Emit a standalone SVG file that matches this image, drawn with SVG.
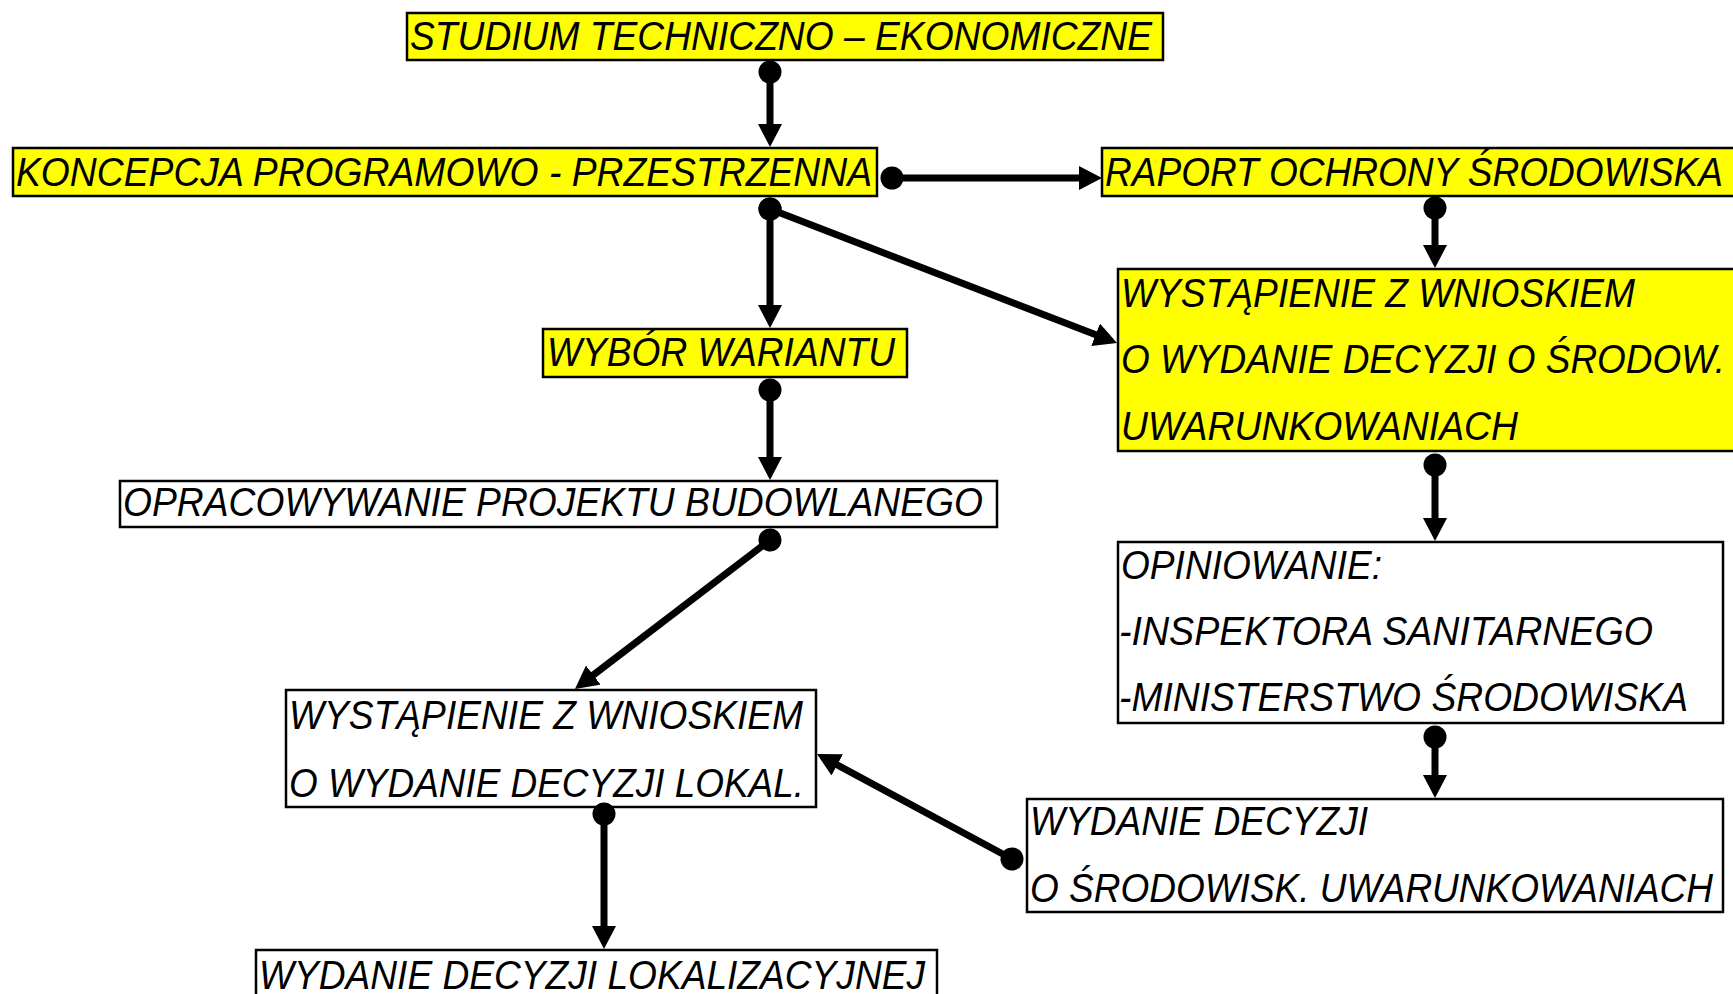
<svg xmlns="http://www.w3.org/2000/svg" width="1733" height="994" viewBox="0 0 1733 994">
<style>
.box{stroke:#000;stroke-width:2.5}
.y{fill:#FFFF00}
.w{fill:#FFFFFF}
.t{font-family:"Liberation Sans",Arial,sans-serif;font-style:italic;font-size:40px;fill:#000}
.c{stroke:#000;stroke-width:7;fill:none;marker-start:url(#dot);marker-end:url(#arr)}
</style>
<defs>
<marker id="arr" viewBox="0 0 23 24" refX="10" refY="12" markerWidth="23" markerHeight="24" markerUnits="userSpaceOnUse" orient="auto">
<path d="M0,0 L23,12 L0,24 z" fill="#000"/>
</marker>
<marker id="dot" viewBox="0 0 24 24" refX="12" refY="12" markerWidth="24" markerHeight="24" markerUnits="userSpaceOnUse" orient="auto">
<circle cx="12" cy="12" r="11.5" fill="#000"/>
</marker>
</defs>
<rect width="1733" height="994" fill="#FFFFFF"/>
<g id="studium">
<rect class="box y" x="407" y="13" width="756" height="47"/>
<text class="t" x="410" y="50" textLength="742" lengthAdjust="spacingAndGlyphs">STUDIUM TECHNICZNO – EKONOMICZNE</text>
</g>
<g id="koncepcja">
<rect class="box y" x="13" y="148" width="864" height="48"/>
<text class="t" x="16" y="186" textLength="856" lengthAdjust="spacingAndGlyphs">KONCEPCJA PROGRAMOWO - PRZESTRZENNA</text>
</g>
<g id="raport">
<rect class="box y" x="1102" y="148" width="660" height="48"/>
<text class="t" x="1105" y="186" textLength="618" lengthAdjust="spacingAndGlyphs">RAPORT OCHRONY ŚRODOWISKA</text>
</g>
<g id="wybor">
<rect class="box y" x="543" y="329" width="364" height="48"/>
<text class="t" x="547" y="366" textLength="348" lengthAdjust="spacingAndGlyphs">WYBÓR WARIANTU</text>
</g>
<g id="wniosek-srodow">
<rect class="box y" x="1118" y="269" width="660" height="182"/>
<text class="t" x="1121" y="307" textLength="514" lengthAdjust="spacingAndGlyphs">WYSTĄPIENIE Z WNIOSKIEM</text>
<text class="t" x="1121" y="373" textLength="604" lengthAdjust="spacingAndGlyphs">O WYDANIE DECYZJI O ŚRODOW.</text>
<text class="t" x="1121" y="440" textLength="397" lengthAdjust="spacingAndGlyphs">UWARUNKOWANIACH</text>
</g>
<g id="opracowywanie">
<rect class="box w" x="120" y="481" width="877" height="46"/>
<text class="t" x="123" y="516" textLength="860" lengthAdjust="spacingAndGlyphs">OPRACOWYWANIE PROJEKTU BUDOWLANEGO</text>
</g>
<g id="opiniowanie">
<rect class="box w" x="1118" y="542" width="605" height="181"/>
<text class="t" x="1121" y="579" textLength="261" lengthAdjust="spacingAndGlyphs">OPINIOWANIE:</text>
<text class="t" x="1119" y="645" textLength="534" lengthAdjust="spacingAndGlyphs">-INSPEKTORA SANITARNEGO</text>
<text class="t" x="1119" y="711" textLength="569" lengthAdjust="spacingAndGlyphs">-MINISTERSTWO ŚRODOWISKA</text>
</g>
<g id="wniosek-lokal">
<rect class="box w" x="286" y="690" width="530" height="117"/>
<text class="t" x="289" y="729" textLength="514" lengthAdjust="spacingAndGlyphs">WYSTĄPIENIE Z WNIOSKIEM</text>
<text class="t" x="289" y="797" textLength="515" lengthAdjust="spacingAndGlyphs">O WYDANIE DECYZJI LOKAL.</text>
</g>
<g id="wydanie-srodow">
<rect class="box w" x="1027" y="799" width="696" height="113"/>
<text class="t" x="1030" y="835" textLength="338" lengthAdjust="spacingAndGlyphs">WYDANIE DECYZJI</text>
<text class="t" x="1030" y="902" textLength="683" lengthAdjust="spacingAndGlyphs">O ŚRODOWISK. UWARUNKOWANIACH</text>
</g>
<g id="wydanie-lokal">
<rect class="box w" x="256" y="950" width="681" height="70"/>
<text class="t" x="259" y="989" textLength="666" lengthAdjust="spacingAndGlyphs">WYDANIE DECYZJI LOKALIZACYJNEJ</text>
</g>
<g id="connectors">
<path class="c" d="M770,72 L770,134"/>
<path class="c" d="M892,178 L1089,178"/>
<path class="c" d="M770,209 L770,315"/>
<path class="c" d="M770,209 L1104.9,338.3"/>
<path class="c" d="M1435,208 L1435,255"/>
<path class="c" d="M770,390 L770,467"/>
<path class="c" d="M1435,465 L1435,528"/>
<path class="c" d="M1435,737 L1435,785"/>
<path class="c" d="M770,540 L585.3,681.1"/>
<path class="c" d="M1012,859 L828.4,760.2"/>
<path class="c" d="M604,814 L604,936"/>
</g>
</svg>
